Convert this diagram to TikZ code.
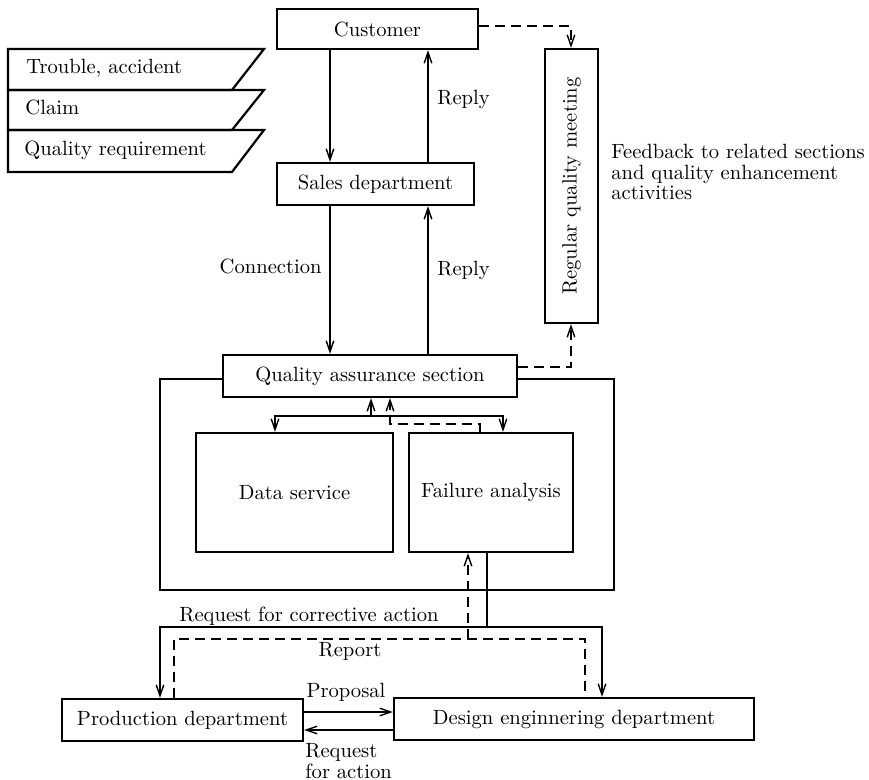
\documentclass[tikz,border=0pt]{standalone}
\usetikzlibrary{arrows.meta}
\begin{document}
\begin{tikzpicture}[x=0.5pt,y=-0.5pt,
  txt/.style={font=\fontsize{10.3}{10.3}\selectfont},
  box/.style={draw, line width=1.1pt, fill=white, inner sep=0pt, txt},
  frame/.style={draw, line width=1.2pt, inner sep=0pt},
  arr/.style={line width=0.7pt, -{Straight Barb[length=5.5pt,width=3.8pt]}},
  dline/.style={line width=0.7pt, dash pattern=on 5pt off 3pt},
  darr/.style={dline, arr},
  lbl/.style={inner sep=0pt, txt, text height=7pt, text depth=2pt},
  tag/.style={line width=1.1pt}]
\useasboundingbox (0,0) rectangle (869,780);

% input categories
\draw[tag] (8,49) -- (264,49) -- (232,90) -- (8,90) -- cycle;
\draw[tag] (8,90) -- (264,90) -- (232,130) -- (8,130) -- cycle;
\draw[tag] (8,130) -- (264,130) -- (232,172) -- (8,172) -- cycle;
\node[lbl, anchor=west] (t1) at (26,69) {Trouble, accident};
\node[lbl, anchor=west] (t2) at (25,110) {Claim};
\node[lbl, anchor=west] (t3) at (24,151) {Quality requirement};

% quality assurance frame
\node[frame, minimum width=227pt, minimum height=105.5pt] (qaframe) at (387,484.5) {};

% main boxes
\node[box, minimum width=100.5pt, minimum height=20pt] (cust) at (377.5,29) {Customer};
\node[box, minimum width=98.5pt, minimum height=21pt] (sales) at (375.5,184) {Sales department};
\node[box, minimum width=147pt, minimum height=21pt] (qa) at (370,376) {Quality assurance section};
\node[box, minimum width=26.5pt, minimum height=137pt] (rqm) at (571.5,186) {\rotatebox{90}{Regular quality meeting}};
\node[box, minimum width=98.5pt, minimum height=59.5pt] (ds) at (294.5,492.5) {Data service};
\node[box, minimum width=82pt, minimum height=59.5pt] (fa) at (491,492.5) {Failure analysis};
\node[box, minimum width=120.5pt, minimum height=21pt] (prod) at (182.5,720) {Production department};
\node[box, minimum width=180pt, minimum height=21pt] (des) at (574,719) {Design enginnering department};

% routing points
\coordinate (xL) at (330,0);
\coordinate (xR) at (428,0);
\coordinate (yFb) at (0,26);
\coordinate (yQr) at (0,367);
\coordinate (xM) at (571,0);
\coordinate (jA) at (371,416);
\coordinate (xDS) at (275,0);
\coordinate (xFA) at (503,0);
\coordinate (xRet) at (480,0);
\coordinate (kB) at (390,424);
\coordinate (jB) at (487,627);
\coordinate (xP) at (160,0);
\coordinate (xD) at (602,0);
\coordinate (kC) at (174,639);
\coordinate (kD) at (585,639);
\coordinate (kE) at (468,639);
\coordinate (yPr) at (0,712);
\coordinate (yRq) at (0,730);

% customer / sales / QA
\draw[arr] (xL |- cust.south) -- (xL |- sales.north);
\draw[arr] (xR |- sales.north) -- (xR |- cust.south);
\draw[arr] (xL |- sales.south) -- (xL |- qa.north);
\draw[arr] (xR |- qa.north) -- (xR |- sales.south);
\node[lbl, anchor=west] (lrep1) at (437,100) {Reply};
\node[lbl, anchor=east] (lcon) at (322,269) {Connection};
\node[lbl, anchor=west] (lrep2) at (437,271) {Reply};

% regular quality meeting
\draw[darr] (cust.east |- yFb) -| (xM |- rqm.north);
\draw[darr] (qa.east |- yQr) -| (xM |- rqm.south);
\node[txt, anchor=north west, align=left, inner sep=0pt] (lfb) at (611,144)
  {Feedback to related sections\\and quality enhancement\\activities};

% inside the QA frame
\draw[arr] (jA) -- (jA |- qa.south);
\draw[arr] (jA) -| (xDS |- ds.north);
\draw[arr] (jA) -| (xFA |- fa.north);
\draw[darr] (xRet |- fa.north) |- (kB) -- (kB |- qa.south);

% corrective action and report
\draw[arr] (jB |- fa.south) -- (jB) -| (xP |- prod.north);
\draw[arr] (jB) -| (xD |- des.north);
\draw[dline] (kC |- prod.north) -- (kC) -- (kD) -- (kD |- des.north);
\draw[darr] (kE) -- (kE |- fa.south);
\node[lbl, anchor=west] (lrca) at (179,617) {Request for corrective action};
\node[lbl] (lreport) at (350,652) {Report};

% production <-> design
\draw[arr] (prod.east |- yPr) -- (des.west |- yPr);
\draw[arr] (des.west |- yRq) -- (prod.east |- yRq);
\node[lbl] (lprop) at (346,693) {Proposal};
\node[txt, anchor=north west, align=left, inner sep=0pt] (lrfa) at (305,743) {Request\\for action};
\end{tikzpicture}
\end{document}
